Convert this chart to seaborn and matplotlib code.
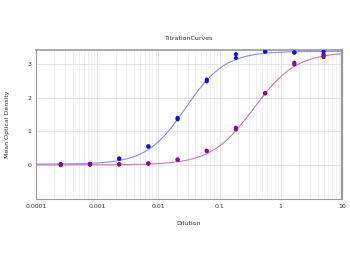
import numpy as np
import pandas as pd
import matplotlib
matplotlib.use("Agg")
import matplotlib.pyplot as plt
import seaborn as sns
from matplotlib.ticker import LogLocator, FixedLocator, NullFormatter

# ---- data ----
dilution = [0.000254, 0.000762, 0.00229, 0.00686, 0.0206, 0.0617, 0.185, 0.556, 1.667, 5.0]
blue_rep1 = [0.02, 0.03, 0.19, 0.55, 1.36, 2.54, 3.29, 3.37, 3.34, 3.37]
blue_rep2 = [0.03, 0.04, 0.20, 0.56, 1.40, 2.49, 3.18, 3.37, 3.35, 3.29]
purple_rep1 = [0.00, 0.02, 0.02, 0.05, 0.16, 0.42, 1.11, 2.13, 3.04, 3.26]
purple_rep2 = [0.01, 0.02, 0.03, 0.05, 0.17, 0.43, 1.06, 2.14, 2.99, 3.21]

# 4PL fit parameters (bottom, top, EC50, hill)
blue_fit = (0.03, 3.38, 0.028, 1.35)
purple_fit = (0.01, 3.36, 0.36, 1.25)

title = "TitrationCurves"
xlabel = "Dilution"
ylabel = "Mean Optical Density"
xticks = [0.0001, 0.001, 0.01, 0.1, 1, 10]
xticklabels = ["0.0001", "0.001", "0.01", "0.1", "1", "10"]
yticks = [0, 1, 2, 3]

blue_pt, blue_ln = "#1010e0", "#8c8ce6"
purp_pt, purp_ln = "#8a0a8a", "#c77ab8"

pts = pd.DataFrame({
    "x": dilution * 4,
    "y": blue_rep1 + blue_rep2 + purple_rep1 + purple_rep2,
    "s": ["blue"] * 20 + ["purple"] * 20,
})

def four_pl(x, p):
    b, t, c, h = p
    return b + (t - b) / (1 + (c / x) ** h)

xs = np.logspace(-4, 1, 300)
curves = pd.DataFrame({
    "x": np.concatenate([xs, xs]),
    "y": np.concatenate([four_pl(xs, blue_fit), four_pl(xs, purple_fit)]),
    "s": ["blue"] * len(xs) + ["purple"] * len(xs),
})

sns.set_style("white")
fig = plt.figure(figsize=(3.5, 2.6), dpi=100)
ax = fig.add_axes([0.103, 0.235, 0.874, 0.573])

sns.lineplot(data=curves, x="x", y="y", hue="s",
             palette={"blue": blue_ln, "purple": purp_ln},
             linewidth=0.8, legend=False, ax=ax)
sns.scatterplot(data=pts, x="x", y="y", hue="s",
                palette={"blue": blue_pt, "purple": purp_pt},
                s=9, linewidth=0, legend=False, ax=ax, zorder=5)

ax.set_xscale("log")
ax.set_xlim(1e-4, 10)
ax.set_ylim(-1.0, 3.42)
ax.xaxis.set_major_locator(FixedLocator(xticks))
ax.set_xticklabels(xticklabels)
ax.xaxis.set_minor_locator(LogLocator(base=10, subs=np.arange(2, 10)))
ax.xaxis.set_minor_formatter(NullFormatter())
ax.set_yticks(yticks)

ax.grid(True, which="major", axis="both", color="#e2e2e2", linewidth=0.6)
ax.grid(True, which="minor", axis="x", color="#ececec", linewidth=0.5)
ax.set_axisbelow(True)

for sp in ax.spines.values():
    sp.set_color("#9a9a9a")
    sp.set_linewidth(0.8)
ax.spines["right"].set_linewidth(1.6)
ax.spines["top"].set_linewidth(1.2)

ax.tick_params(axis="both", which="major", labelsize=4.5, length=2,
               width=0.5, color="#9a9a9a", labelcolor="#333333", pad=1.5)
ax.tick_params(axis="both", which="minor", length=0)

ax.set_xlabel(xlabel, fontsize=4.5, color="#333333")
ax.set_ylabel(ylabel, fontsize=4.5, color="#333333")
ax.xaxis.set_label_coords(0.5, -0.148)
ax.yaxis.set_label_coords(-0.085, 0.5)
ax.set_title(title, fontsize=4.5, color="#333333", pad=7)

fig.savefig("out.png", dpi=100, facecolor="white")
